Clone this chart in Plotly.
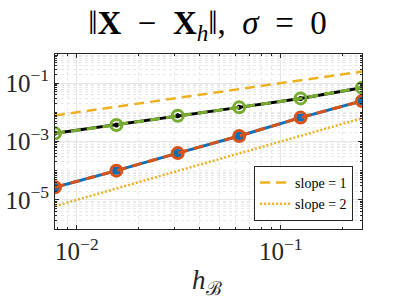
import plotly.graph_objects as go

# mesh sizes h_B
h = [1/128, 1/64, 1/32, 1/16, 1/8, 1/4]

# error series
err_blue = [2.7e-5, 1.0e-4, 4.0e-4, 1.55e-3, 6.6e-3, 2.45e-2]
err_orange = [2.7e-5, 1.0e-4, 4.0e-4, 1.55e-3, 6.6e-3, 2.45e-2]
err_black = [1.9e-3, 3.7e-3, 7.6e-3, 1.48e-2, 3.0e-2, 7.0e-2]
err_green = [1.9e-3, 3.7e-3, 7.6e-3, 1.48e-2, 3.0e-2, 7.0e-2]

# reference slope lines
ref1 = [0.0078125, 0.015625, 0.03125, 0.0625, 0.125, 0.25]
ref2 = [6.1e-6, 2.44e-5, 9.77e-5, 3.91e-4, 1.56e-3, 6.25e-3]

x_tickvals = [1e-2, 1e-1]
x_ticktext = ["10<sup>−2</sup>", "10<sup>−1</sup>"]
y_tickvals = [1e-5, 1e-3, 1e-1]
y_ticktext = ["10<sup>−5</sup>", "10<sup>−3</sup>", "10<sup>−1</sup>"]

BLUE = "#0072BD"
ORANGE = "#D95319"
YELLOW = "#EDB120"
GREEN = "#77AC30"
FONT = "Liberation Serif, DejaVu Serif, serif"

fig = go.Figure()

fig.add_trace(go.Scatter(x=h, y=ref1, mode="lines", name="slope = 1",
                         line=dict(color=YELLOW, width=2.5, dash="10px,6px")))
fig.add_trace(go.Scatter(x=h, y=ref2, mode="lines", name="slope = 2",
                         line=dict(color=YELLOW, width=2.5, dash="2px,2px")))

fig.add_trace(go.Scatter(x=h, y=err_blue, mode="lines+markers", showlegend=False,
                         line=dict(color=BLUE, width=3),
                         marker=dict(symbol="square", size=8, color=BLUE)))
fig.add_trace(go.Scatter(x=h, y=err_orange, mode="lines+markers", showlegend=False,
                         line=dict(color=ORANGE, width=3, dash="10px,6px"),
                         marker=dict(symbol="circle-open", size=11, color=ORANGE,
                                     line=dict(width=3, color=ORANGE))))
fig.add_trace(go.Scatter(x=h, y=err_black, mode="lines+markers", showlegend=False,
                         line=dict(color="black", width=3),
                         marker=dict(symbol="circle", size=5, color="black")))
fig.add_trace(go.Scatter(x=h, y=err_green, mode="lines+markers", showlegend=False,
                         line=dict(color=GREEN, width=3, dash="10px,6px"),
                         marker=dict(symbol="circle-open", size=11, color=GREEN,
                                     line=dict(width=3, color=GREEN))))

axis_common = dict(
    type="log", showline=True, linecolor="#262626", linewidth=1, mirror="allticks",
    ticks="inside", ticklen=4, tickcolor="#262626", automargin=False,
    showgrid=True, gridcolor="#e6e6e6", gridwidth=1, zeroline=False,
    tickfont=dict(family=FONT, size=25, color="#262626"),
)

fig.update_xaxes(**axis_common, range=[-2.107, -0.602],
                 tickvals=x_tickvals, ticktext=x_ticktext,
                 minor=dict(dtick="D1", showgrid=True, gridcolor="#e8e8e8",
                            griddash="dot", ticks="inside", ticklen=2, tickcolor="#262626"))
fig.update_yaxes(**axis_common, range=[-6, 0],
                 tickvals=y_tickvals, ticktext=y_ticktext,
                 minor=dict(dtick="D1", showgrid=True, gridcolor="#e8e8e8",
                            griddash="dot", ticks="inside", ticklen=2, tickcolor="#262626"))

fig.add_annotation(text="<i>h</i><sub>ℬ</sub>", xref="paper", yref="paper",
                   x=0.495, y=-0.30, xanchor="center", yanchor="middle", showarrow=False,
                   font=dict(family=FONT, size=27, color="#262626"))

fig.update_layout(
    width=399, height=299,
    margin=dict(l=55, r=37, t=54, b=70),
    paper_bgcolor="white", plot_bgcolor="white",
    title=dict(text="‖<b>X</b>  −  <b>X</b><sub><i>h</i></sub>‖,  <i>σ</i>  =  0",
               font=dict(family=FONT, size=33, color="black"),
               x=0.52, xanchor="center", y=0.926, yanchor="middle"),
    legend=dict(x=0.971, xanchor="right", y=0.046, yanchor="bottom",
                bgcolor="white", bordercolor="#262626", borderwidth=1,
                font=dict(family=FONT, size=14, color="black"),
                itemwidth=30, tracegroupgap=0),
    showlegend=True,
)

# remove the browser's default 8px body margin so the figure sits at the window origin
fig.write_html("out.html", config={"displayModeBar": False},
               post_script="document.body.style.margin='0px';")
